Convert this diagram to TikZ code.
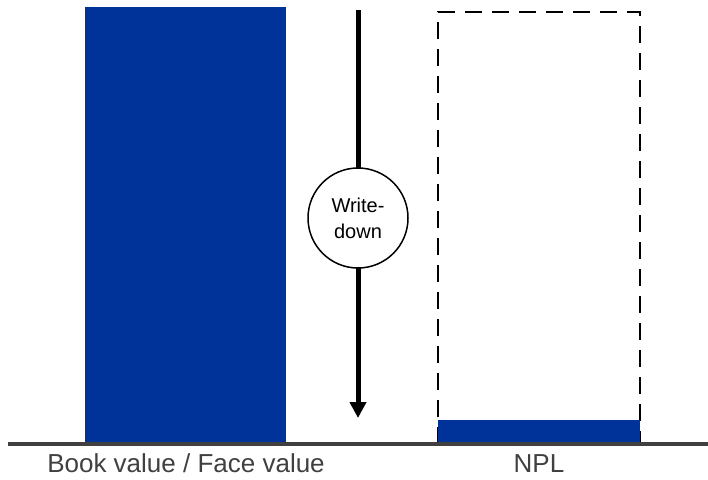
\documentclass[tikz,border=0pt]{standalone}
\usepackage{fontspec}
\setmainfont{Liberation Sans}
\usetikzlibrary{arrows.meta}
\definecolor{barblue}{RGB}{0,51,153}
\definecolor{axisgray}{RGB}{64,64,64}
\begin{document}
\begin{tikzpicture}[x=1pt,y=-1pt,
  bar/.style={fill=barblue,draw=none},
  dashbox/.style={draw=black,line width=2pt,dash pattern=on 17pt off 10pt},
  lbl/.style={text=axisgray,font=\fontsize{26}{32}\selectfont,inner sep=0pt,anchor=base},
  circ/.style={circle,draw=black,line width=1.5pt,fill=white,minimum size=100pt,inner sep=0pt,align=center,font=\fontsize{20}{26}\selectfont}]
\useasboundingbox (0,0) rectangle (708,479);
% left bar
\fill[barblue] (85,7) rectangle (286,444);
% NPL dashed frame and small bar
\draw[dashbox] (438,444) -- (438,12) -- (640,12) -- (640,444);
\fill[barblue] (438,420) rectangle (640,444);
% baseline
\coordinate (bl) at (8,444);
\coordinate (br) at (708,444);
\draw[axisgray,line width=4pt] (bl) -- (br);
% arrow
\coordinate (atop) at (358,10);
\coordinate (abot) at (358,418);
\draw[line width=5pt,-{Triangle[length=16pt,width=16pt]}] (atop) -- (abot);
\node[circ] (wd) at (358,218) {Write-\\down};
% labels
\node[lbl] (l1) at (186,472) {Book value / Face value};
\node[lbl] (l2) at (539,472) {NPL};
\end{tikzpicture}
\end{document}
